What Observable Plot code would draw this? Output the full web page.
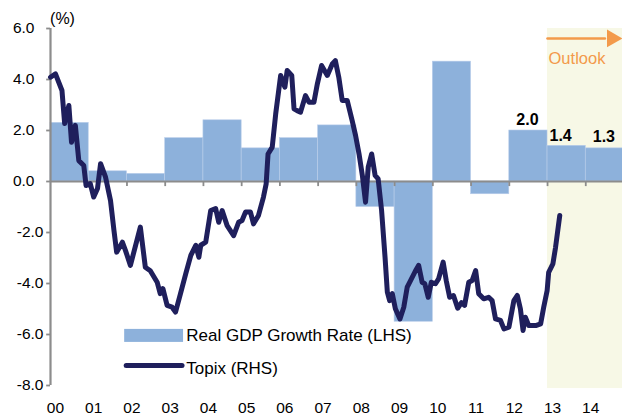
<!DOCTYPE html>
<html>
<head>
<meta charset="utf-8">
<script src="https://cdn.jsdelivr.net/npm/d3@7"></script>
<script src="https://cdn.jsdelivr.net/npm/@observablehq/plot@0.6"></script>
<style>
  html, body { margin: 0; padding: 0; background: #fff; }
  #chart svg { display: block; }
</style>
</head>
<body>
<div id="chart"></div>
<script>
// ---- Data ----
const gdpYears = [2000, 2001, 2002, 2003, 2004, 2005, 2006, 2007, 2008, 2009, 2010, 2011, 2012, 2013, 2014];
const gdpValues = [2.3, 0.4, 0.3, 1.7, 2.4, 1.3, 1.7, 2.2, -1.0, -5.5, 4.7, -0.5, 2.0, 1.4, 1.3];

const topixTime = [
  2000.00, 2000.13, 2000.30, 2000.37, 2000.48, 2000.55, 2000.65, 2000.74, 2000.87, 2000.93,
  2001.04, 2001.13, 2001.23, 2001.31, 2001.44, 2001.57, 2001.66, 2001.73, 2001.88, 2001.96,
  2002.09, 2002.35, 2002.48, 2002.61, 2002.79, 2002.87, 2002.94, 2003.05, 2003.18, 2003.27,
  2003.40, 2003.54, 2003.67, 2003.80, 2003.88, 2003.93, 2004.06, 2004.19, 2004.32, 2004.40,
  2004.49, 2004.62, 2004.79, 2004.92, 2005.01, 2005.10, 2005.23, 2005.31, 2005.44, 2005.57,
  2005.64, 2005.69, 2005.80, 2005.89, 2006.02, 2006.13, 2006.19, 2006.31, 2006.37, 2006.45,
  2006.54, 2006.67, 2006.76, 2006.89, 2006.98, 2007.09, 2007.24, 2007.37, 2007.45, 2007.54,
  2007.63, 2007.76, 2007.89, 2007.98, 2008.07, 2008.16, 2008.24, 2008.31, 2008.40, 2008.49,
  2008.57, 2008.66, 2008.75, 2008.81, 2008.87, 2008.94, 2009.02, 2009.14, 2009.24, 2009.33,
  2009.42, 2009.55, 2009.63, 2009.72, 2009.79, 2009.88, 2009.96, 2010.07, 2010.15, 2010.27,
  2010.35, 2010.44, 2010.54, 2010.65, 2010.75, 2010.83, 2010.94, 2011.03, 2011.12, 2011.20,
  2011.33, 2011.46, 2011.55, 2011.64, 2011.77, 2011.86, 2011.99, 2012.12, 2012.21, 2012.29,
  2012.36, 2012.42, 2012.51, 2012.69, 2012.82, 2012.90, 2012.99, 2013.03, 2013.14, 2013.21,
  2013.32
];
const topixValues = [
  4.09, 4.22, 3.57, 2.27, 2.98, 1.54, 2.20, 0.82, 0.63, -0.16,
  -0.08, -0.61, -0.27, 0.70, 0.17, -0.75, -1.92, -2.77, -2.38, -2.70,
  -3.29, -1.79, -3.36, -3.50, -3.95, -4.40, -4.20, -4.86, -4.93, -5.12,
  -4.40, -3.60, -2.90, -2.50, -2.97, -2.50, -2.38, -1.14, -1.06, -1.60,
  -1.14, -1.73, -2.12, -1.60, -1.53, -1.20, -1.20, -1.66, -1.33, -0.61,
  -0.10, 1.08, 1.35, 2.65, 4.16, 3.70, 4.35, 4.16, 2.85, 2.78,
  2.72, 3.37, 3.11, 3.11, 3.83, 4.55, 4.16, 4.61, 4.74, 4.09,
  3.18, 3.18, 2.39, 1.80, 1.08, 0.20, -0.81, 0.56, 1.08, 0.24,
  0.10, -1.14, -2.97, -4.34, -4.67, -4.40, -4.99, -5.39, -4.93, -4.14,
  -3.88, -3.49, -3.29, -3.95, -4.01, -4.54, -3.95, -4.01, -3.82, -3.16,
  -3.88, -4.54, -4.47, -4.97, -4.75, -4.86, -3.95, -3.88, -3.49, -4.40,
  -4.60, -4.54, -4.67, -5.39, -5.45, -5.78, -5.71, -4.67, -4.47, -4.99,
  -5.84, -5.32, -5.65, -5.65, -5.58, -4.93, -4.27, -3.56, -3.23, -2.58,
  -1.33
];

const yTicks = [6, 4, 2, 0, -2, -4, -6, -8];
const yTickLabels = ["6.0", "4.0", "2.0", "0.0", "-2.0", "-4.0", "-6.0", "-8.0"];
const xTickYears = [2000, 2001, 2002, 2003, 2004, 2005, 2006, 2007, 2008, 2009, 2010, 2011, 2012, 2013, 2014];
const xTickLabels = ["00", "01", "02", "03", "04", "05", "06", "07", "08", "09", "10", "11", "12", "13", "14"];
const labeledYears = [2012, 2013, 2014];
const labeledText = ["2.0", "1.4", "1.3"];
const outlookStart = 2013;
const outlookEnd = 2015;
const seriesNames = ["Real GDP Growth Rate (LHS)", "Topix (RHS)"];

// ---- Tables built from the arrays ----
const gdp = gdpYears.map((y, i) => ({year: y, value: gdpValues[i]}));
const topix = topixTime.map((t, i) => ({t, v: topixValues[i]}));
const yAxisLabels = yTicks.map((v, i) => ({v, label: yTickLabels[i]}));
const xAxisLabels = xTickYears.map((y, i) => ({year: y, label: xTickLabels[i]}));
const valueLabels = labeledYears.map((y, i) => ({year: y, value: gdpValues[gdpYears.indexOf(y)], label: labeledText[i]}));

const GRAY = "#8c8c8c";
const BAR = "#8db1db";
const NAVY = "#1f1f5c";
const ORANGE = "#f39a4b";
const SHADE = "#f7f8e6";
const FONT = "'Liberation Sans', Arial, sans-serif";

const chart = Plot.plot({
  width: 622,
  height: 416,
  marginLeft: 50,
  marginRight: 0,
  marginTop: 28,
  marginBottom: 31,
  style: {fontFamily: FONT, fontSize: "15px", background: "#fff", color: "#000"},
  x: {domain: [2000, 2015], range: [50, 623.5], axis: null},
  y: {domain: [-8, 6], range: [385, 28], axis: null},
  marks: [
    // Outlook shading
    Plot.rect([{a: outlookStart, b: outlookEnd}], {x1: "a", x2: "b", y1: -8.12, y2: 6, fill: SHADE}),
    // GDP bars
    Plot.rect(gdp, {x1: "year", x2: d => d.year + 1, y1: 0, y2: "value", fill: BAR, stroke: "#b9cdea", strokeWidth: 0.6}),
    // zero line
    Plot.ruleY([0], {x1: 2000, x2: 2015, stroke: GRAY, strokeWidth: 2.2}),
    // x ticks on zero line
    Plot.ruleX(xTickYears.slice(1), {y1: 0, y2: -0.2, stroke: GRAY, strokeWidth: 1.8}),
    // y axis line and ticks
    Plot.ruleX([2000], {y1: -8, y2: 6, stroke: GRAY, strokeWidth: 2.2}),
    Plot.ruleY(yTicks, {x1: 1999.9, x2: 2000, stroke: GRAY, strokeWidth: 1.8}),
    // y tick labels
    Plot.text(yAxisLabels.filter(d => d.v >= 0), {x: 2000, y: "v", text: "label", textAnchor: "end", dx: -16, fontSize: 15.5, fill: "#000"}),
    Plot.text(yAxisLabels.filter(d => d.v < 0), {x: 2000, y: "v", text: "label", textAnchor: "end", dx: -7, fontSize: 15.5, fill: "#000"}),
    // x tick labels
    Plot.text(xAxisLabels, {x: d => d.year + 0.13, frameAnchor: "bottom", dy: 23, text: "label", fontSize: 15.5, fill: "#000", lineAnchor: "middle"}),
    // unit label
    Plot.text(["(%)"], {frameAnchor: "top-left", dx: 12, dy: -10, text: d => d, fontSize: 16, fill: "#000", textAnchor: "middle", lineAnchor: "middle"}),
    // Topix line
    Plot.line(topix, {x: "t", y: "v", stroke: NAVY, strokeWidth: 5, strokeLinejoin: "round", strokeLinecap: "round"}),
    // value labels
    Plot.text(valueLabels.filter(d => d.year !== 2013), {x: d => d.year + 0.5, y: "value", text: "label", dy: -11, dx: -1, fontWeight: "bold", fontSize: 16, fill: "#000"}),
    Plot.text(valueLabels.filter(d => d.year === 2013), {x: d => d.year + 0.5, y: "value", text: "label", dy: -10, dx: -6, fontWeight: "bold", fontSize: 16, fill: "#000"}),
    // Outlook arrow and text
    Plot.line([{x: outlookStart, y: 5.61}, {x: 2014.5, y: 5.61}], {x: "x", y: "y", stroke: ORANGE, strokeWidth: 2.6}),
    Plot.dot([{x: 2014.69, y: 5.61}], {x: "x", y: "y", symbol: "triangle", rotate: 90, r: 6.6, fill: ORANGE, stroke: "none"}),
    Plot.text(["Outlook"], {x: outlookStart, y: 4.8, text: d => d, dx: 1, textAnchor: "start", fontSize: 16.5, fill: ORANGE}),
    // Legend
    Plot.rect([seriesNames[0]], {x1: 2001.94, x2: 2003.48, y1: -6.31, y2: -5.80, fill: BAR}),
    Plot.text([seriesNames[0]], {x: 2003.55, y: -6.06, text: d => d, textAnchor: "start", fontSize: 17, fill: "#000"}),
    Plot.line([{x: 2001.98, y: -7.22}, {x: 2003.44, y: -7.22}], {x: "x", y: "y", stroke: NAVY, strokeWidth: 5, strokeLinecap: "round"}),
    Plot.text([seriesNames[1]], {x: 2003.55, y: -7.33, text: d => d, textAnchor: "start", fontSize: 17, fill: "#000"})
  ]
});
document.getElementById("chart").appendChild(chart);
</script>
</body>
</html>
